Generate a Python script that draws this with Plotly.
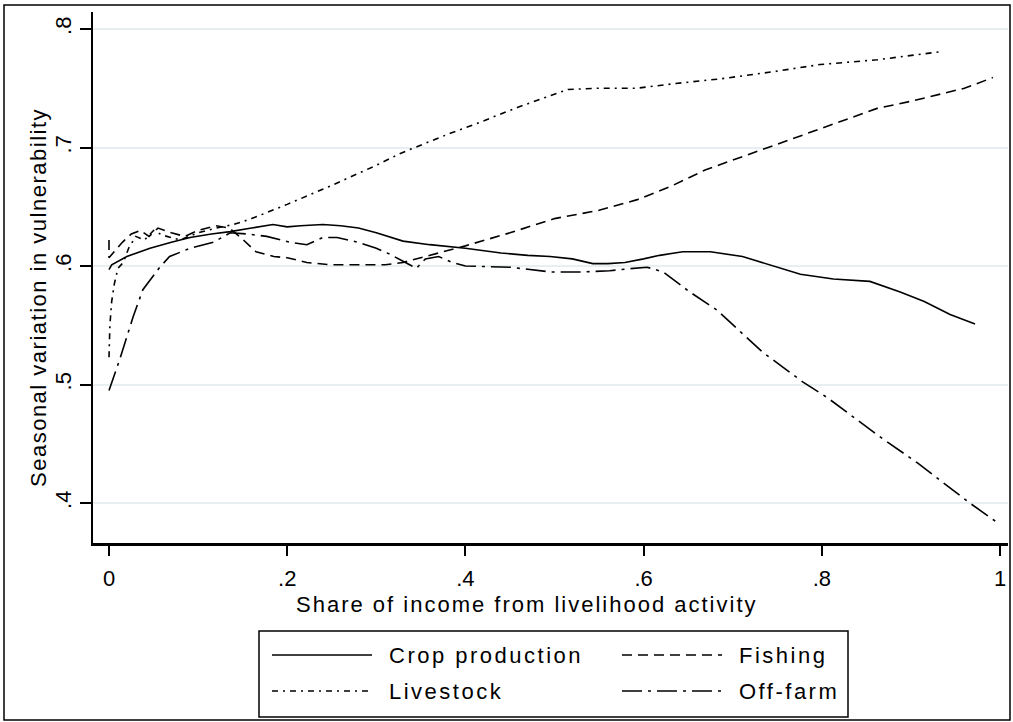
import plotly.graph_objects as go

# ---- data ----
series_names = ["Crop production", "Fishing", "Livestock", "Off-farm"]

crop_x = [0.0, 0.003, 0.02, 0.046, 0.07, 0.091, 0.115, 0.136, 0.16, 0.184, 0.2, 0.215, 0.24, 0.26, 0.28,
          0.3, 0.33, 0.36, 0.4, 0.44, 0.47, 0.495, 0.52, 0.543, 0.56, 0.579, 0.6, 0.618, 0.644, 0.675,
          0.711, 0.745, 0.776, 0.813, 0.854, 0.888, 0.915, 0.944, 0.972]
crop_y = [0.597, 0.601, 0.608, 0.615, 0.620, 0.624, 0.627, 0.629, 0.632, 0.635, 0.633, 0.634, 0.635, 0.634, 0.632,
          0.628, 0.621, 0.618, 0.615, 0.611, 0.609, 0.608, 0.606, 0.602, 0.602, 0.603, 0.606, 0.609, 0.612, 0.612,
          0.608, 0.600, 0.593, 0.589, 0.587, 0.578, 0.570, 0.559, 0.551]

fishing_x = [0.0, 0.0, 0.008, 0.015, 0.025, 0.035, 0.045, 0.055, 0.07, 0.085, 0.1, 0.12, 0.135, 0.148, 0.165,
             0.185, 0.2, 0.222, 0.248, 0.28, 0.31, 0.33, 0.35, 0.375, 0.4, 0.45, 0.5, 0.55, 0.593, 0.63,
             0.669, 0.71, 0.755, 0.798, 0.83, 0.862, 0.9, 0.926, 0.96, 0.992]
fishing_y = [0.622, 0.607, 0.614, 0.620, 0.627, 0.630, 0.625, 0.632, 0.628, 0.625, 0.630, 0.634, 0.632, 0.624, 0.612,
             0.608, 0.607, 0.603, 0.601, 0.601, 0.601, 0.603, 0.607, 0.612, 0.617, 0.628, 0.640, 0.647, 0.656, 0.667,
             0.681, 0.692, 0.704, 0.716, 0.724, 0.733, 0.739, 0.744, 0.750, 0.759]

livestock_x = [0.0, 0.001, 0.003, 0.006, 0.01, 0.016, 0.022, 0.03, 0.04, 0.05, 0.06, 0.08, 0.1, 0.12, 0.14,
               0.16, 0.2, 0.25, 0.3, 0.327, 0.383, 0.412, 0.459, 0.515, 0.549, 0.592, 0.636, 0.687, 0.746,
               0.798, 0.862, 0.926, 0.935]
livestock_y = [0.523, 0.550, 0.570, 0.585, 0.598, 0.603, 0.615, 0.625, 0.622, 0.630, 0.626, 0.622, 0.628, 0.632, 0.635,
               0.640, 0.652, 0.668, 0.685, 0.695, 0.712, 0.720, 0.734, 0.749, 0.750, 0.750, 0.754, 0.758, 0.764,
               0.770, 0.774, 0.780, 0.781]

offfarm_x = [0.0, 0.012, 0.027, 0.038, 0.057, 0.068, 0.091, 0.117, 0.136, 0.155, 0.177, 0.203, 0.222, 0.24, 0.256,
             0.28, 0.3, 0.315, 0.33, 0.345, 0.355, 0.37, 0.385, 0.4, 0.45, 0.495, 0.532, 0.562, 0.581, 0.604,
             0.622, 0.652, 0.682, 0.734, 0.779, 0.806, 0.865, 0.907, 0.966, 0.998]
offfarm_y = [0.495, 0.521, 0.557, 0.580, 0.599, 0.608, 0.615, 0.620, 0.628, 0.627, 0.625, 0.620, 0.618, 0.624, 0.624,
             0.620, 0.615, 0.610, 0.604, 0.598, 0.606, 0.608, 0.603, 0.600, 0.599, 0.595, 0.595, 0.596, 0.5975, 0.599,
             0.595, 0.578, 0.563, 0.527, 0.502, 0.489, 0.456, 0.434, 0.400, 0.383]

x_tickvals = [0, 0.2, 0.4, 0.6, 0.8, 1.0]
x_ticktext = ["0", ".2", ".4", ".6", ".8", "1"]
y_tickvals = [0.4, 0.5, 0.6, 0.7, 0.8]
y_ticktext = [".4", ".5", ".6", ".7", ".8"]

x_title = "Share of income from livelihood activity"
y_title = "Seasonal variation in vulnerability"

# ---- styles ----
dashes = ["solid", "10px,6px", "6px,5px,2px,5px", "20px,6px,3px,6px"]
FONT = "Liberation Sans, Arial, sans-serif"
W, H = 1013, 722
L, R, T, B = 93, 5, 12, 179
PW, PH = W - L - R, H - T - B


def px(xp):
    return (xp - L) / PW


def py(yp):
    return (H - B - yp) / PH


def spaced(s, sp):
    return "<span style='letter-spacing:%spx'>%s</span>" % (sp, s)


fig = go.Figure()
data = [(crop_x, crop_y), (fishing_x, fishing_y), (livestock_x, livestock_y), (offfarm_x, offfarm_y)]
for name, (xs, ys), d in zip(series_names, data, dashes):
    fig.add_trace(go.Scatter(x=xs, y=ys, mode="lines", name=name,
                             line=dict(color="black", width=1.6, dash=d), showlegend=False))

shapes = []
annotations = []
# outer border
shapes.append(dict(type="rect", xref="paper", yref="paper", x0=px(4), x1=px(1010), y0=py(5), y1=py(720),
                   line=dict(color="black", width=1.5)))
# legend box
shapes.append(dict(type="rect", xref="paper", yref="paper", x0=px(259), x1=px(848), y0=py(631), y1=py(717),
                   line=dict(color="black", width=1.5), fillcolor="white", layer="above"))
leg_pos = [(272, 655), (622, 655), (272, 691), (622, 691)]
for name, d, (lx, ly) in zip(series_names, dashes, leg_pos):
    shapes.append(dict(type="line", xref="paper", yref="paper", x0=px(lx), x1=px(lx + 100), y0=py(ly), y1=py(ly),
                       line=dict(color="black", width=1.6, dash=d)))
    annotations.append(dict(text=spaced(name, 2.5), xref="paper", yref="paper", x=px(lx + 115), y=py(ly),
                            xanchor="left", yanchor="middle", showarrow=False,
                            font=dict(family=FONT, size=22, color="black")))

annotations.append(dict(text=spaced(x_title, 2), xref="paper", yref="paper", x=px(527), y=py(604),
                        xanchor="center", yanchor="middle", showarrow=False,
                        font=dict(family=FONT, size=22, color="black")))
annotations.append(dict(text=spaced(y_title, 1.5), xref="paper", yref="paper", x=px(38), y=py(298),
                        xanchor="center", yanchor="middle", textangle=-90, showarrow=False,
                        font=dict(family=FONT, size=22, color="black")))

fig.update_layout(
    width=W, height=H,
    margin=dict(l=L, r=R, t=T, b=B, pad=0),
    paper_bgcolor="white", plot_bgcolor="white",
    shapes=shapes, annotations=annotations,
    showlegend=False,
    xaxis=dict(range=[(L - 109) / 891, (W - R - 109) / 891], tickvals=x_tickvals, ticktext=x_ticktext,
               showgrid=False, zeroline=False, showline=True, linecolor="black", linewidth=3,
               ticks="outside", ticklen=10, tickwidth=2, tickcolor="black",
               tickfont=dict(family=FONT, size=22, color="black"), ticklabelstandoff=4),
    yaxis=dict(range=[0.4 - 40 / 1185, 0.8 + 17 / 1185], tickvals=y_tickvals, ticktext=y_ticktext,
               showgrid=True, gridcolor="#e8eff0", gridwidth=1.5, zeroline=False,
               showline=True, linecolor="black", linewidth=2,
               ticks="outside", ticklen=11, tickwidth=2, tickcolor="black", tickangle=-90,
               tickfont=dict(family=FONT, size=22, color="black"), ticklabelstandoff=0),
)

fig.write_html("out.html", config={"displayModeBar": False},
               post_script="document.body.style.margin='0';document.body.style.overflow='hidden';")
